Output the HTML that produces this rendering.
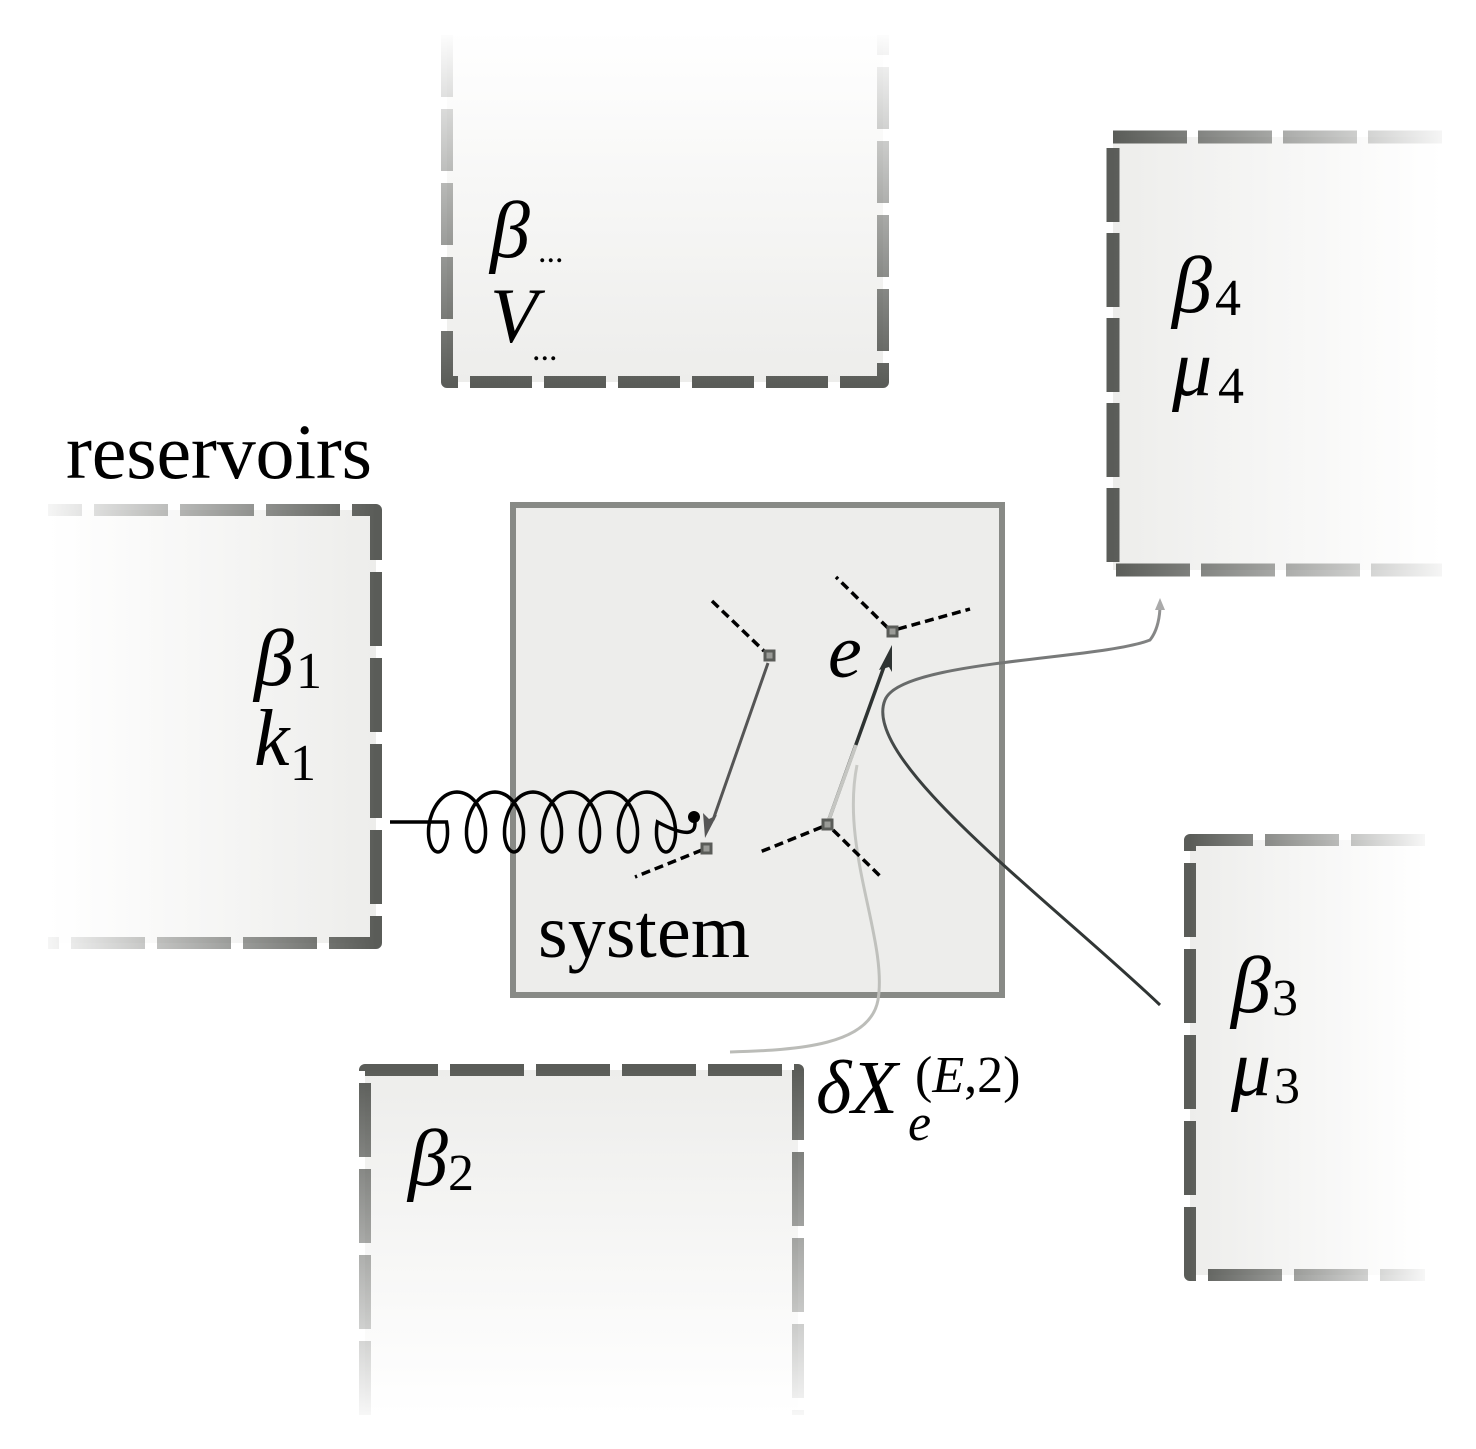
<!DOCTYPE html>
<html><head><meta charset="utf-8"><style>
html,body{margin:0;padding:0;background:#fff}
svg{display:block}
text{font-family:"Liberation Serif",serif;fill:#000}
.it{font-style:italic}
</style></head><body>
<svg width="1476" height="1449" viewBox="0 0 1476 1449" xmlns="http://www.w3.org/2000/svg">
<defs>
<linearGradient id="fT" x1="0" y1="1" x2="0" y2="0"><stop offset="0" stop-color="#ededeb"/><stop offset="1" stop-color="#fff"/></linearGradient>
<linearGradient id="sT" gradientUnits="userSpaceOnUse" x1="0" y1="385" x2="0" y2="30"><stop offset="0" stop-color="#5a5c58"/><stop offset="1" stop-color="#5a5c58" stop-opacity="0"/></linearGradient>
<linearGradient id="fR" x1="0" y1="0" x2="1" y2="0"><stop offset="0" stop-color="#ededeb"/><stop offset="1" stop-color="#fff"/></linearGradient>
<linearGradient id="s4" gradientUnits="userSpaceOnUse" x1="1113" y1="0" x2="1445" y2="0"><stop offset="0" stop-color="#5a5c58"/><stop offset="1" stop-color="#5a5c58" stop-opacity="0.05"/></linearGradient>
<linearGradient id="s3" gradientUnits="userSpaceOnUse" x1="1190" y1="0" x2="1425" y2="0"><stop offset="0" stop-color="#5a5c58"/><stop offset="1" stop-color="#5a5c58" stop-opacity="0.05"/></linearGradient>
<linearGradient id="fL" x1="1" y1="0" x2="0" y2="0"><stop offset="0" stop-color="#ededeb"/><stop offset="1" stop-color="#fff"/></linearGradient>
<linearGradient id="s1" gradientUnits="userSpaceOnUse" x1="376" y1="0" x2="45" y2="0"><stop offset="0" stop-color="#5a5c58"/><stop offset="1" stop-color="#5a5c58" stop-opacity="0.05"/></linearGradient>
<linearGradient id="fB" x1="0" y1="0" x2="0" y2="1"><stop offset="0" stop-color="#ededeb"/><stop offset="1" stop-color="#fff"/></linearGradient>
<linearGradient id="s2" gradientUnits="userSpaceOnUse" x1="0" y1="1070" x2="0" y2="1415"><stop offset="0" stop-color="#5a5c58"/><stop offset="1" stop-color="#5a5c58" stop-opacity="0.05"/></linearGradient>
<linearGradient id="cg" gradientUnits="userSpaceOnUse" x1="1160" y1="1005" x2="1160" y2="600"><stop offset="0" stop-color="#2e3332"/><stop offset="0.6" stop-color="#3a3f3e"/><stop offset="1" stop-color="#999"/></linearGradient>
<linearGradient id="lg" gradientUnits="userSpaceOnUse" x1="0" y1="760" x2="0" y2="1050"><stop offset="0" stop-color="#c8c9c5"/><stop offset="1" stop-color="#bbbcb8"/></linearGradient>
</defs>

<rect x="447" y="30" width="436" height="352" fill="url(#fT)"/>
<path d="M447,35 V382 H883 V35" fill="none" stroke="url(#sT)" stroke-width="12" stroke-dasharray="62 12" stroke-linejoin="round"/>
<text class="it" x="490" y="257" font-size="80">β</text><text x="538" y="262" font-size="34">...</text>
<text class="it" x="490" y="342" font-size="78">V</text><text x="532" y="360" font-size="34">...</text>

<rect x="1113" y="137" width="330" height="433" fill="url(#fR)"/>
<path d="M1442,137 H1113 V570 H1442" fill="none" stroke="url(#s4)" stroke-width="13" stroke-dasharray="74 11" stroke-linejoin="round"/>
<text class="it" x="1172" y="312" font-size="80">β</text><text x="1215" y="315" font-size="52">4</text>
<text class="it" x="1172" y="395" font-size="80">μ</text><text x="1218" y="403" font-size="52">4</text>

<rect x="48" y="510" width="328" height="433" fill="url(#fL)"/>
<path d="M48,510 H376 V943 H48" fill="none" stroke="url(#s1)" stroke-width="12" stroke-dasharray="74 12" stroke-linejoin="round" stroke-dashoffset="40"/>
<text x="66" y="478" font-size="78" textLength="306">reservoirs</text>
<text class="it" x="254" y="685" font-size="80">β</text><text x="296" y="688" font-size="52">1</text>
<text class="it" x="254" y="765" font-size="80">k</text><text x="290" y="780" font-size="52">1</text>

<rect x="365" y="1070" width="433" height="345" fill="url(#fB)"/>
<path d="M365,1415 V1070 H798 V1415" fill="none" stroke="url(#s2)" stroke-width="12" stroke-dasharray="74 12" stroke-linejoin="round"/>
<text class="it" x="408" y="1185" font-size="80">β</text><text x="448" y="1190" font-size="52">2</text>

<rect x="1190" y="840" width="235" height="435" fill="url(#fR)"/>
<path d="M1425,840 H1190 V1275 H1425" fill="none" stroke="url(#s3)" stroke-width="12" stroke-dasharray="74 12" stroke-linejoin="round"/>
<text class="it" x="1231" y="1012" font-size="80">β</text><text x="1272" y="1015" font-size="52">3</text>
<text class="it" x="1231" y="1095" font-size="80">μ</text><text x="1274" y="1103" font-size="52">3</text>

<rect x="513" y="505" width="489" height="490" fill="#ededeb" stroke="#888a86" stroke-width="6"/>
<text x="538" y="957" font-size="76" textLength="212">system</text>
<text class="it" x="828" y="677" font-size="76">e</text>

<path d="M730,1052 C800,1050 870,1045 878,1000 C888,940 840,850 857,765" fill="none" stroke="url(#lg)" stroke-width="3"/>
<path d="M1160,1005 C1050,900 860,760 885,700 C900,660 1100,660 1150,640 C1158,630 1160,615 1160,605" fill="none" stroke="url(#cg)" stroke-width="3"/>
<path d="M1160,598 l-5,12 l10,0 z" fill="#aaa"/>
<line x1="827" y1="825" x2="886" y2="661" stroke="#2e3332" stroke-width="3.5"/>
<line x1="827" y1="825" x2="856" y2="745" stroke="#c5c6c2" stroke-width="3.5"/>
<path d="M892,645 l-13,25 l10,-3 l3,5 z" fill="#2e3332"/>
<line x1="768" y1="663" x2="713" y2="820" stroke="#555" stroke-width="3"/>
<path d="M705,838 l-2,-25 l6,6 l8,-4 z" fill="#555"/>
<g stroke="#000" stroke-width="3.5" stroke-dasharray="9 5" fill="none">
<line x1="712" y1="601" x2="764" y2="651"/>
<line x1="702" y1="850" x2="635" y2="877"/>
<line x1="822" y1="827" x2="760" y2="852"/>
<line x1="833" y1="830" x2="881" y2="877"/>
<line x1="888" y1="628" x2="836" y2="577"/>
<line x1="898" y1="629" x2="970" y2="609"/>
</g>
<g fill="#9a9b97" stroke="#5a5c58" stroke-width="3">
<rect x="765" y="651" width="9" height="9"/>
<rect x="702" y="844" width="9" height="9"/>
<rect x="823" y="820" width="9" height="9"/>
<rect x="888" y="627" width="9" height="9"/>
</g>
<path id="spring" fill="none" stroke="#000" stroke-width="3.5"/>
<circle cx="694" cy="817" r="6" fill="#000"/>

<text class="it" x="816" y="1113" font-size="76">δX</text>
<text class="it" x="908" y="1140" font-size="52">e</text>
<text x="915" y="1092" font-size="52"><tspan>(</tspan><tspan font-style="italic">E</tspan><tspan>,2)</tspan></text>
</svg>
<script>
(function(){
var N=6,x0=420,p=38,R=18,ry=30,yc=822;
var pts=[];
for(var i=-15;i<=N*60+15;i++){var t=i/60*2*Math.PI;
var x=x0+p*t/(2*Math.PI)-R*Math.sin(t)+R;var y=yc+ry*Math.cos(t);
pts.push(x.toFixed(1)+","+y.toFixed(1));}
var d="M390,822 L"+pts.join(" L")+" Q"+(x0+p*N+R+35)+",845 694,817";
document.getElementById("spring").setAttribute("d",d);
})();
</script>
</body></html>
